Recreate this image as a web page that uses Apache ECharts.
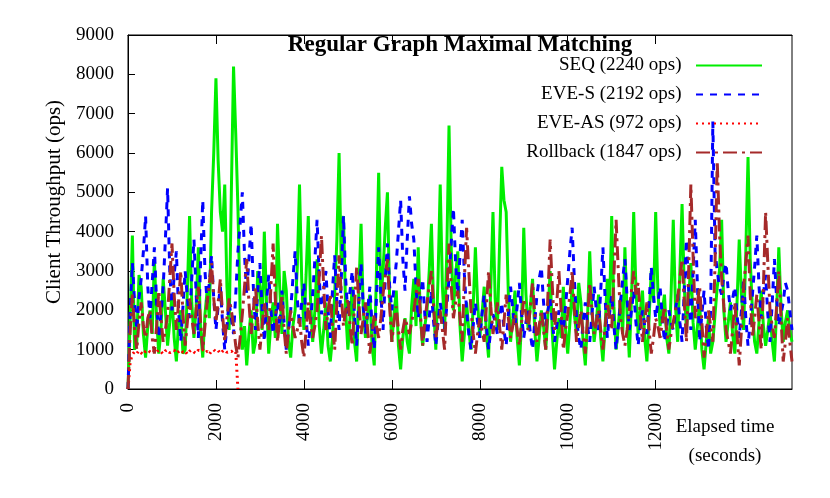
<!DOCTYPE html>
<html>
<head>
<meta charset="utf-8">
<script src="https://cdn.jsdelivr.net/npm/echarts@6/dist/echarts.min.js"></script>
<style>html,body{margin:0;padding:0;background:#fff}#c{width:830px;height:498px}</style>
</head>
<body>
<div id="c"></div>
<script>
// Elapsed time (seconds) sample grid, one row per 1000 s
const times = [
  0,50,100,150,200,250,300,350,400,450,500,550,600,650,700,750,800,850,900,950,
  1000,1050,1100,1150,1200,1250,1300,1350,1400,1450,1500,1550,1600,1650,1700,1750,1800,1850,1900,1950,
  2000,2050,2100,2150,2200,2250,2300,2350,2400,2450,2500,2550,2600,2650,2700,2750,2800,2850,2900,2950,
  3000,3050,3100,3150,3200,3250,3300,3350,3400,3450,3500,3550,3600,3650,3700,3750,3800,3850,3900,3950,
  4000,4050,4100,4150,4200,4250,4300,4350,4400,4450,4500,4550,4600,4650,4700,4750,4800,4850,4900,4950,
  5000,5050,5100,5150,5200,5250,5300,5350,5400,5450,5500,5550,5600,5650,5700,5750,5800,5850,5900,5950,
  6000,6050,6100,6150,6200,6250,6300,6350,6400,6450,6500,6550,6600,6650,6700,6750,6800,6850,6900,6950,
  7000,7050,7100,7150,7200,7250,7300,7350,7400,7450,7500,7550,7600,7650,7700,7750,7800,7850,7900,7950,
  8000,8050,8100,8150,8200,8250,8300,8350,8400,8450,8500,8550,8600,8650,8700,8750,8800,8850,8900,8950,
  9000,9050,9100,9150,9200,9250,9300,9350,9400,9450,9500,9550,9600,9650,9700,9750,9800,9850,9900,9950,
  10000,10050,10100,10150,10200,10250,10300,10350,10400,10450,10500,10550,10600,10650,10700,10750,10800,10850,10900,10950,
  11000,11050,11100,11150,11200,11250,11300,11350,11400,11450,11500,11550,11600,11650,11700,11750,11800,11850,11900,11950,
  12000,12050,12100,12150,12200,12250,12300,12350,12400,12450,12500,12550,12600,12650,12700,12750,12800,12850,12900,12950,
  13000,13050,13100,13150,13200,13250,13300,13350,13400,13450,13500,13550,13600,13650,13700,13750,13800,13850,13900,13950,
  14000,14050,14100,14150,14200,14250,14300,14350,14400,14450,14500,14550,14600,14650,14700,14750,14800,14850,14900,14950,
  15000,15050,15100
];
const seq = [
  0,1800,3900,1000,1200,2900,2600,1400,800,1600,2000,1400,3300,1800,900,1500,2800,2000,1100,1700,
  2400,1300,700,1700,2000,900,1000,2500,4400,2200,1300,2100,3600,1500,800,1900,2500,1800,4500,6000,
  7900,5800,4500,4000,5200,2600,1500,5000,8200,6500,4600,2000,1000,1600,600,1400,2000,900,1200,3000,
  2600,1500,4000,2200,900,1700,2200,1300,4200,2600,1400,3000,2500,1200,800,1600,2000,3100,5200,2800,
  1500,2900,4400,2300,1200,2000,3300,1600,900,1500,2200,1100,700,1300,2400,3800,6000,3200,4400,2000,
  1000,1800,2600,1200,700,2500,4200,2000,1300,1900,2400,1100,600,3000,5500,2200,3000,4100,5000,2300,
  1200,1900,2500,1100,500,1300,1800,1200,900,2100,2800,1600,3600,1800,1100,1600,2000,3000,4200,2100,
  1000,2800,5200,2600,1500,3500,6700,3600,2000,2900,3500,1600,700,1400,2200,1500,1000,2100,3600,2200,
  1300,1900,2600,1400,800,2600,4500,2300,1500,3700,5650,4800,4500,2400,1200,1800,2500,1300,600,1700,
  4100,2400,1500,2100,2800,1500,700,1300,2000,1600,1000,1900,3000,1400,500,1200,1800,1300,2600,1500,
  900,1700,2600,1900,1400,2700,2200,1200,600,1800,3500,2000,1200,1700,2400,1300,700,1600,2800,2000,
  4400,2100,1000,1600,2300,1400,3600,1900,800,2300,4500,2600,1400,2000,2500,1300,700,1800,3000,2200,
  4500,2500,1600,2000,2400,1300,900,2400,4300,2100,1200,3000,4700,2600,1500,2300,3200,1700,1000,1600,
  2200,1000,500,1200,1800,900,1200,1900,2600,3000,4300,2000,1200,1700,2200,1400,900,2200,3800,2400,
  1500,3500,5900,3300,2000,1200,900,1700,2500,1600,1100,1500,2000,1200,700,2000,3600,2100,1200,1700,
  2000,1500,1200
];
const eveS = [
  0,2000,3200,2200,1500,2300,2800,3500,4400,2600,1800,2700,3600,2200,1300,1900,2600,3800,5100,3000,
  2000,2900,3500,2000,1200,2100,3000,2300,1800,2800,3800,2400,1300,3200,4800,3000,2200,2700,3400,2300,
  1500,2100,2600,1700,1000,1600,2200,1800,1400,2400,3500,4200,5000,3400,2400,3300,4200,2600,1500,2500,
  3200,2000,1200,2200,2900,2000,1400,1800,2200,1600,2500,1700,1000,1500,2000,2800,3500,2300,1600,2200,
  2700,1800,1100,1700,2400,3300,4300,2800,1900,2500,3000,2000,1300,2500,3400,2200,1500,2800,4400,2800,
  1900,2500,3000,1900,1100,2200,3200,2100,1400,2000,2600,1600,1000,2300,3600,2400,1500,2800,3700,2600,
  2000,2600,3200,4000,4800,3300,2500,3800,4900,4200,3800,2600,1800,2300,2800,1900,1200,1800,2500,1700,
  1100,1700,2200,1800,1500,2100,2800,3700,4600,3200,2400,3400,4300,2900,2000,1400,1000,1600,2200,1700,
  1300,1900,2400,1600,1000,1500,1900,1700,1400,1800,2200,1500,1100,1900,2600,2000,1600,2100,2700,1900,
  1300,1700,2000,1400,1000,1700,2400,2800,3100,2200,1600,2000,2300,1700,1200,1600,2000,1700,1500,2100,
  2800,3500,4100,2800,1800,1300,1000,1700,2200,1600,1200,1900,2600,2000,1500,2500,3600,2300,1300,1900,
  2400,1600,1000,1600,2200,2800,3300,2300,1500,2000,2500,1700,1100,1600,2000,1600,1400,2200,3100,2400,
  1800,2200,2600,1800,1200,1600,2000,1700,1500,2000,2400,1700,1200,2500,3800,2500,1500,3000,4300,2600,
  1200,1900,2500,1600,1000,2000,6800,3500,3000,2600,2400,2900,3200,2500,2000,2300,2600,1900,1300,2000,
  2800,1800,1100,1700,2400,3100,3900,2600,1800,2400,2900,1900,1200,2200,3300,2300,1600,1900,2200,2700,
  2500,2000,1500
];
const eveAsTimes = [
  0,50,100,150,200,250,300,350,400,450,500,550,600,650,700,750,800,850,900,950,
  1000,1050,1100,1150,1200,1250,1300,1350,1400,1450,1500,1550,1600,1650,1700,1750,1800,1850,1900,1950,
  2000,2050,2100,2150,2200,2250,2300,2350,2400,2450,2500
];
const eveAs = [
  0,700,880,950,900,980,920,870,960,1000,940,900,980,930,1000,950,890,970,1000,920,
  960,990,900,950,1000,930,970,880,960,1000,940,900,990,950,1000,920,960,880,970,1000,
  940,980,900,960,1000,930,970,950,990,960,0
];
const rollback = [
  0,1500,2400,1500,1000,1700,2200,1600,1300,1800,2000,1300,900,1600,2500,1800,1200,1500,1900,2800,
  3700,2400,1500,2200,3000,1900,1100,1700,2300,1800,1400,2000,2600,1700,1000,1600,2200,2700,3200,2300,
  1700,2200,2800,1900,1200,1800,2300,2000,1600,1100,800,1300,1900,2600,3300,2200,1400,2000,2600,1700,
  1000,1600,2200,1800,1500,2600,3700,2300,1200,1800,2400,1500,900,1500,2000,1600,1300,1500,1800,1200,
  800,1500,2200,1700,1300,1600,2000,2900,3900,2600,1500,2000,2400,1600,1000,2200,3400,2400,1600,2000,
  2300,1600,1100,2100,3100,2200,1400,1800,2200,1500,900,1400,1900,1600,1300,1800,2400,2900,3300,2100,
  1200,1700,2100,1500,1000,1500,1800,1600,1400,1700,2000,2400,2800,1900,1100,1700,2200,2600,3000,2100,
  1300,1700,2000,1500,1000,2400,3700,2600,1800,2200,2500,1800,1200,2800,4100,3000,2000,1400,900,1400,
  1800,1500,1200,2100,3000,2100,1400,1800,2200,1600,1000,1700,2400,1800,1300,1600,1900,1500,1100,1700,
  2300,1900,1500,2100,2700,1900,1200,1600,2000,1500,1000,2400,3800,2600,1500,2200,3000,2000,1000,1500,
  1900,2400,3000,2100,1200,1600,2000,1400,900,1800,2700,2000,1400,1700,2000,1500,1000,1600,2200,1800,
  1500,2900,4300,3000,1800,1400,1100,1500,2000,2500,3000,2400,2700,1900,1200,1700,2200,1500,900,1300,
  1800,1600,1300,1700,2100,1500,1000,1400,1700,2000,2300,2800,3300,2200,1200,3000,5200,3400,1800,2200,
  2600,1700,800,1400,2000,1600,1200,3200,5800,4000,2800,2100,1500,1200,900,1500,2200,1400,600,1500,
  2600,3200,3900,2400,1300,1800,2400,1700,1000,2600,4500,3200,2000,1600,1300,2100,3000,1800,700,1200,
  1800,1200,700
];
const seriesNames = ['SEQ (2240 ops)', 'EVE-S (2192 ops)', 'EVE-AS (972 ops)', 'Rollback (1847 ops)'];
const xTicks = [0, 2000, 4000, 6000, 8000, 10000, 12000];

const FONT = 'Liberation Serif';
const pair = (xs, ys) => xs.map((x, i) => [x, ys[i]]);
const plain = v => String(v);

const chart = echarts.init(document.getElementById('c'), null, {renderer: 'canvas'});
const baseX = {
  type: 'value', min: 0, max: 15100,
  splitLine: {show: false},
  axisLine: {show: true, lineStyle: {color: '#000', width: 1}}
};
chart.setOption({
  animation: false,
  backgroundColor: '#fff',
  title: [
    {text: 'Regular Graph Maximal Matching', left: 460, top: 34, textAlign: 'center', padding: 0,
     textStyle: {fontFamily: FONT, fontWeight: 'bold', fontSize: 23, color: '#000'}},
    {text: 'Elapsed time\n(seconds)', left: 725, top: 413, textAlign: 'center', padding: 0,
     textStyle: {fontFamily: FONT, fontWeight: 'normal', fontSize: 19, lineHeight: 29, color: '#000'}}
  ],
  legend: {
    orient: 'vertical', right: 67, top: 56, align: 'right', padding: 0,
    itemWidth: 66, itemHeight: 12, itemGap: 10,
    data: seriesNames,
    formatter: n => n + '  ',
    itemStyle: {opacity: 0},
    textStyle: {fontFamily: FONT, fontSize: 19, color: '#000'}
  },
  grid: {left: 128, right: 38, top: 35, bottom: 109, show: true, borderColor: '#000', borderWidth: 1, backgroundColor: 'transparent'},
  xAxis: [
    Object.assign({}, baseX, {
      position: 'bottom',
      axisTick: {show: true, inside: true, length: 9, customValues: xTicks, lineStyle: {color: '#000'}},
      axisLabel: {show: true, rotate: 90, margin: 14, customValues: xTicks, formatter: plain, fontFamily: FONT, fontSize: 19, color: '#000'}
    }),
    Object.assign({}, baseX, {
      position: 'top',
      axisTick: {show: true, inside: true, length: 9, customValues: xTicks, lineStyle: {color: '#000'}},
      axisLabel: {show: false}
    })
  ],
  yAxis: {
    type: 'value', min: 0, max: 9000, interval: 1000,
    name: 'Client Throughput (ops)', nameLocation: 'middle', nameGap: 58,
    nameTextStyle: {fontFamily: FONT, fontSize: 21, color: '#000', padding: [0, 0, 0, 20]},
    splitLine: {show: false},
    axisLine: {show: true, lineStyle: {color: '#000'}},
    axisTick: {show: true, inside: true, length: 7, lineStyle: {color: '#000'}},
    axisLabel: {margin: 14, formatter: plain, fontFamily: FONT, fontSize: 19, color: '#000'}
  },
  series: [
    {name: seriesNames[0], type: 'line', symbol: 'none', data: pair(times, seq),
     lineStyle: {color: '#00ee00', width: 3}, itemStyle: {color: '#00ee00'}},
    {name: seriesNames[1], type: 'line', symbol: 'none', data: pair(times, eveS),
     lineStyle: {color: '#0000ff', width: 3, type: [7, 7]}, itemStyle: {color: '#0000ff'}},
    {name: seriesNames[2], type: 'line', symbol: 'none', data: pair(eveAsTimes, eveAs),
     lineStyle: {color: '#ff0000', width: 3, type: [2, 4]}, itemStyle: {color: '#ff0000'}},
    {name: seriesNames[3], type: 'line', symbol: 'none', data: pair(times, rollback),
     lineStyle: {color: '#a52a2a', width: 3, type: [14, 5, 3, 5]}, itemStyle: {color: '#a52a2a'}}
  ]
});
</script>
</body>
</html>
